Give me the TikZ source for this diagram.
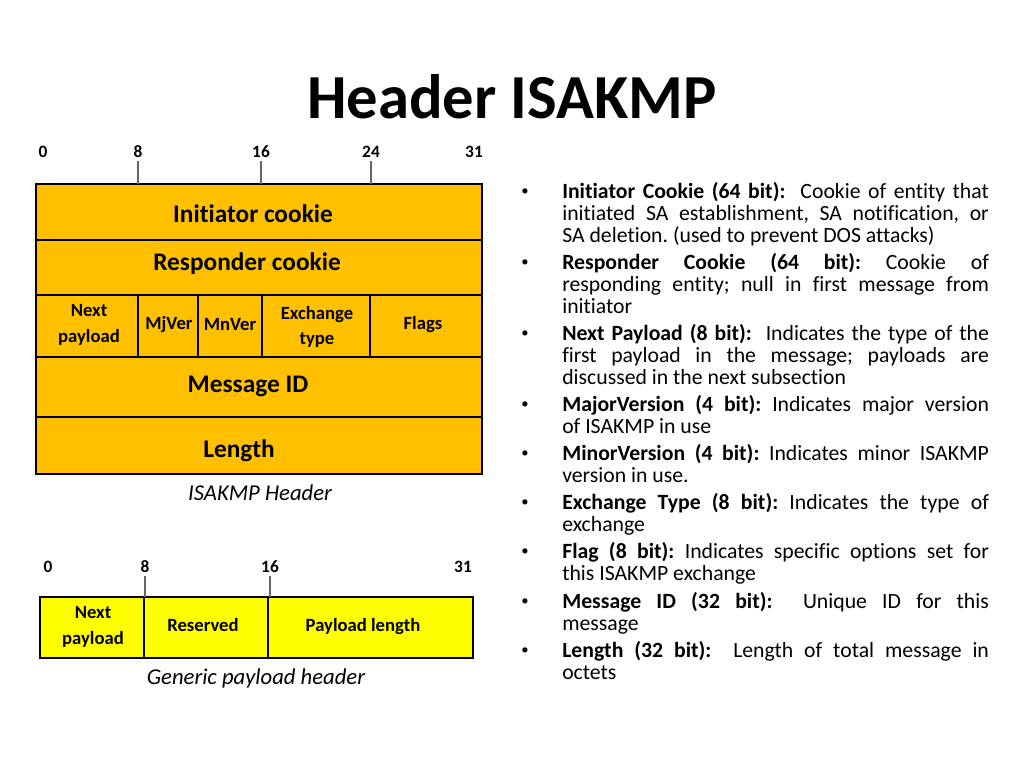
\documentclass[tikz,border=0pt]{standalone}
\usepackage{fontspec}
\setmainfont{Carlito}[Ligatures={NoCommon,NoRequired}]
\usetikzlibrary{positioning}
\frenchspacing

\definecolor{hdrgold}{HTML}{FFC000}
\definecolor{pldyellow}{HTML}{FFFF00}

\begin{document}
\begin{tikzpicture}[x=0.75pt,y=-0.75pt,inner sep=0pt,
  field/.style={draw=black,line width=2pt},
  ftext/.style={font=\bfseries\fontsize{19}{21}\selectfont,align=center},
  fsmall/.style={font=\bfseries\fontsize{14}{19}\selectfont,align=center},
  bitno/.style={font=\bfseries\fontsize{13}{15}\selectfont,anchor=base},
  tickline/.style={draw=black!60,line width=0.9pt},
  capt/.style={font=\itshape\fontsize{17}{19}\selectfont},
  item/.style={anchor=north west,text width=320pt,align=justify,
    font=\fontsize{16.3}{16.5}\selectfont},
  dot/.style={anchor=north west,font=\fontsize{16.3}{16.5}\selectfont}]

\useasboundingbox (0,0) rectangle (1024,768);

\node[font=\bfseries\fontsize{47}{52}\selectfont] (title) at (512,97) {Header ISAKMP};

% ISAKMP header
\coordinate (htop) at (36,184);
\filldraw[field,fill=hdrgold] (htop) rectangle (482,474);
\draw[field] (36,240) -- (482,240);
\draw[field] (36,295) -- (482,295);
\draw[field] (36,357) -- (482,357);
\draw[field] (36,417) -- (482,417);
\foreach \x in {138,198,262,370}
  \draw[field] (\x,295) -- (\x,357);

\node[bitno] (h0) at (43,157) {0};
\node[bitno] (h8) at (138,157) {8};
\node[bitno] (h16) at (261,157) {16};
\node[bitno] (h24) at (371,157) {24};
\node[bitno] (h31) at (474,157) {31};
\foreach \b in {h8,h16,h24}
  \draw[tickline] ([yshift=-3pt]\b.south) -- (\b |- htop);

\node[ftext] (icookie) at (253,214) {Initiator cookie};
\node[ftext] (rcookie) at (247,264) {Responder cookie};
\node[fsmall] (hnext) at (89,325) {Next\\payload};
\node[fsmall] (mjver) at (169,325) {MjVer};
\node[fsmall] (mnver) at (230,325) {MnVer};
\node[fsmall] (xtype) at (317,327) {Exchange\\type};
\node[fsmall] (flags) at (423,325) {Flags};
\node[ftext] (msgid) at (248,386) {Message ID};
\node[ftext] (length) at (239,451) {Length};
\node[capt] (hcapt) at (260,493) {ISAKMP Header};

% generic payload header
\coordinate (ptop) at (40,597);
\filldraw[field,fill=pldyellow] (ptop) rectangle (473,658);
\foreach \x in {144,268}
  \draw[field] (\x,597) -- (\x,658);

\node[bitno] (p0) at (48,572) {0};
\node[bitno] (p8) at (145,572) {8};
\node[bitno] (p16) at (270,572) {16};
\node[bitno] (p31) at (463,572) {31};
\foreach \b in {p8,p16}
  \draw[tickline] ([yshift=-3pt]\b.south) -- (\b |- ptop);

\node[fsmall] (pnext) at (93,627) {Next\\payload};
\node[fsmall] (resv) at (203,625) {Reserved};
\node[fsmall] (plen) at (363,627) {Payload length};
\node[capt] (pcapt) at (256,678) {Generic payload header};

% field descriptions
\foreach \y [count=\i] in {182,253,324,395,444,493,542,592,641}
  \node[dot] (b\i) at (521,\y) {\strut\raisebox{1.6pt}{\fontsize{11}{11}\selectfont\textbullet}};
\node[item] (d1) at (562,182) {\strut\textbf{Initiator Cookie (64 bit):}\ \ Cookie of entity that\linebreak initiated SA establishment, SA notification, or\linebreak SA deletion. (used to prevent DOS attacks)};
\node[item] (d2) at (562,253) {\strut\textbf{Responder Cookie (64 bit):} Cookie of\linebreak responding entity; null in first message from\linebreak initiator};
\node[item] (d3) at (562,324) {\strut\textbf{Next Payload (8 bit):}\ \ Indicates the type of the\linebreak first payload in the message; payloads are\linebreak discussed in the next subsection};
\node[item] (d4) at (562,395) {\strut\textbf{MajorVersion (4 bit):} Indicates major version\linebreak of ISAKMP in use};
\node[item] (d5) at (562,444) {\strut\textbf{MinorVersion (4 bit):} Indicates minor ISAKMP\linebreak version in use.};
\node[item] (d6) at (562,493) {\strut\textbf{Exchange Type (8 bit):} Indicates the type of\linebreak exchange};
\node[item] (d7) at (562,542) {\strut\textbf{Flag (8 bit):} Indicates specific options set for\linebreak this ISAKMP exchange};
\node[item] (d8) at (562,592) {\strut\textbf{Message ID (32 bit):}\ \ Unique ID for this\linebreak message};
\node[item] (d9) at (562,641) {\strut\textbf{Length (32 bit):}\ \ Length of total message in\linebreak octets};

\end{tikzpicture}
\end{document}
